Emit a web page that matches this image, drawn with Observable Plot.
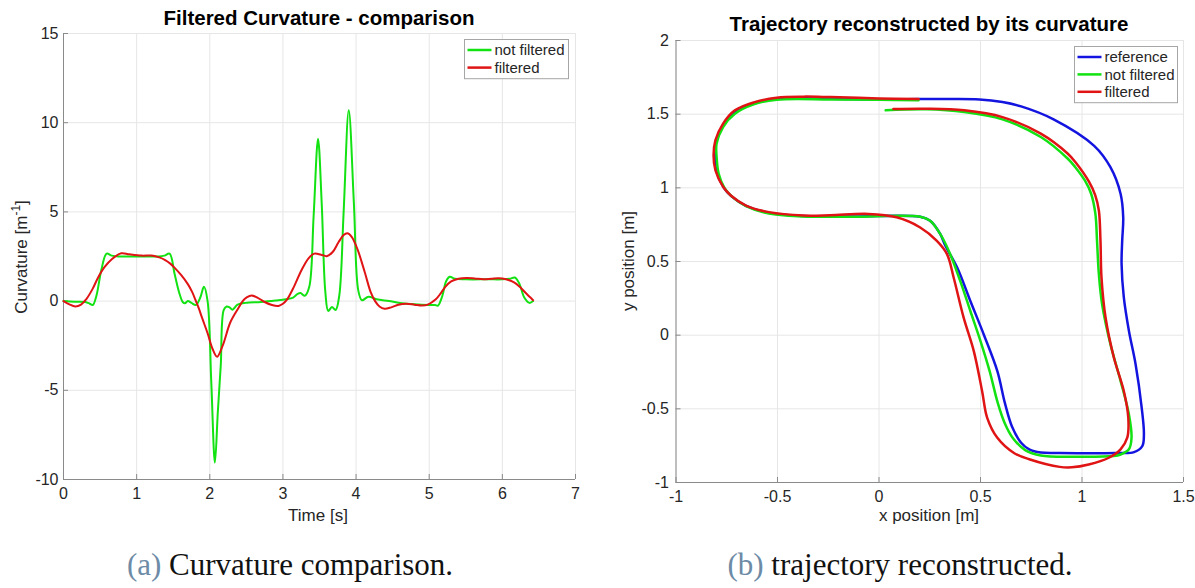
<!DOCTYPE html>
<html>
<head>
<meta charset="utf-8">
<script src="https://cdn.jsdelivr.net/npm/d3@7"></script>
<script src="https://cdn.jsdelivr.net/npm/@observablehq/plot@0.6"></script>
<style>
  html, body { margin: 0; padding: 0; background: #fff; }
  #fig { position: relative; width: 1195px; height: 588px; overflow: hidden;
         font-family: "Liberation Sans", Arial, Helvetica, sans-serif; }
  #fig > svg { position: absolute; top: 0; }
</style>
</head>
<body>
<div id="fig"></div>
<script>
// ---- curvature panel -------------------------------------------------------
const timeTicks = [0, 1, 2, 3, 4, 5, 6, 7];
const curvTicks = [-10, -5, 0, 5, 10, 15];

// curvature computed directly from the path (not filtered)
const rawTime = [0, 0.15, 0.30, 0.36, 0.40, 0.45, 0.52, 0.59, 0.66, 0.75, 0.9, 1.1, 1.3, 1.38, 1.45, 1.52, 1.58, 1.63, 1.66, 1.70, 1.75, 1.81, 1.87, 1.92, 1.97, 2.02, 2.07, 2.11, 2.15, 2.19, 2.23, 2.27, 2.31, 2.38, 2.49, 2.7, 2.9, 3.04, 3.14, 3.20, 3.24, 3.30, 3.36, 3.42, 3.48, 3.53, 3.58, 3.62, 3.67, 3.72, 3.77, 3.83, 3.90, 3.97, 4.03, 4.08, 4.17, 4.28, 4.45, 4.6, 4.8, 5.0, 5.08, 5.12, 5.18, 5.23, 5.28, 5.35, 5.5, 5.8, 6.0, 6.1, 6.17, 6.23, 6.30, 6.37, 6.42];
const rawCurv = [0, -0.03, -0.05, -0.15, -0.22, 0.3, 1.8, 2.66, 2.55, 2.5, 2.5, 2.5, 2.5, 2.55, 2.66, 1.5, 0.5, -0.05, -0.12, 0.0, -0.1, -0.22, 0.2, 0.8, 0.0, -4.5, -9.05, -6.2, -3.6, -0.5, -0.3, -0.35, -0.48, -0.2, -0.1, -0.05, 0.03, 0.1, 0.2, 0.4, 0.45, 0.3, 0.8, 4.8, 9.1, 5.5, 0.5, -0.55, -0.33, -0.5, 0.3, 5.0, 10.7, 5.5, 0.6, 0.05, 0.25, 0.1, 0.0, -0.1, -0.18, -0.22, -0.22, -0.25, 0.3, 1.1, 1.36, 1.25, 1.22, 1.22, 1.22, 1.25, 1.32, 1.0, 0.2, -0.1, 0.0];

// low-pass filtered curvature
const filtTime = [0, 0.08, 0.16, 0.24, 0.31, 0.40, 0.47, 0.56, 0.66, 0.79, 0.9, 1.07, 1.2, 1.31, 1.39, 1.46, 1.52, 1.61, 1.70, 1.76, 1.81, 1.84, 1.90, 1.97, 2.04, 2.10, 2.18, 2.28, 2.39, 2.45, 2.51, 2.57, 2.65, 2.75, 2.85, 2.94, 3.0, 3.05, 3.15, 3.25, 3.35, 3.43, 3.52, 3.60, 3.68, 3.76, 3.83, 3.88, 3.94, 4.02, 4.12, 4.2, 4.26, 4.32, 4.39, 4.48, 4.58, 4.69, 4.8, 4.9, 4.98, 5.09, 5.16, 5.22, 5.3, 5.4, 5.51, 5.62, 5.74, 5.85, 5.95, 6.05, 6.16, 6.25, 6.32, 6.42];
const filtCurv = [0, -0.18, -0.3, -0.2, 0.1, 0.7, 1.3, 1.9, 2.35, 2.68, 2.62, 2.55, 2.55, 2.45, 2.3, 2.1, 1.86, 1.45, 0.95, 0.5, 0.0, -0.3, -1.0, -1.8, -2.7, -3.12, -2.45, -1.2, -0.4, 0.0, 0.22, 0.32, 0.2, -0.05, -0.22, -0.27, -0.15, 0.05, 0.8, 1.7, 2.4, 2.66, 2.6, 2.52, 2.75, 3.3, 3.7, 3.8, 3.6, 2.9, 1.6, 0.5, 0.0, -0.3, -0.43, -0.35, -0.2, -0.15, -0.2, -0.25, -0.2, 0.1, 0.45, 0.8, 1.1, 1.25, 1.3, 1.27, 1.22, 1.25, 1.28, 1.22, 1.05, 0.75, 0.45, 0.05];

// ---- trajectory panel ------------------------------------------------------
const posXTicks = [-1, -0.5, 0, 0.5, 1, 1.5];
const posYTicks = [-1, -0.5, 0, 0.5, 1, 1.5, 2];

const refX = [0.195, 0.0, -0.24, -0.504, -0.617, -0.71, -0.768, -0.803, -0.807, -0.798, -0.764, -0.725, -0.655, -0.542, -0.372, -0.127, 0.203, 0.252, 0.302, 0.327, 0.385, 0.45, 0.516, 0.583, 0.62, 0.655, 0.70, 0.74, 0.797, 0.89, 1.165, 1.256, 1.297, 1.305, 1.294, 1.264, 1.231, 1.206, 1.195, 1.198, 1.203, 1.19, 1.14, 1.06, 0.86, 0.70, 0.608, 0.495, 0.35, 0.195];
const refY = [1.603, 1.60, 1.605, 1.605, 1.573, 1.513, 1.423, 1.31, 1.215, 1.108, 1.0, 0.94, 0.878, 0.83, 0.808, 0.806, 0.804, 0.777, 0.686, 0.607, 0.459, 0.232, 0.005, -0.244, -0.46, -0.62, -0.73, -0.775, -0.797, -0.80, -0.80, -0.794, -0.753, -0.673, -0.492, -0.197, 0.03, 0.256, 0.483, 0.64, 0.80, 0.96, 1.14, 1.285, 1.465, 1.553, 1.582, 1.60, 1.603, 1.603];

const rawX = [0.195, 0.0, -0.24, -0.504, -0.617, -0.71, -0.768, -0.80, -0.80, -0.79, -0.76, -0.72, -0.655, -0.542, -0.372, -0.127, 0.203, 0.252, 0.302, 0.351, 0.40, 0.45, 0.50, 0.545, 0.585, 0.62, 0.66, 0.72, 0.797, 0.985, 1.155, 1.19, 1.231, 1.244, 1.231, 1.19, 1.14, 1.099, 1.083, 1.074, 1.066, 1.045, 1.014, 0.967, 0.929, 0.797, 0.608, 0.42, 0.231, 0.033];
const rawY = [1.594, 1.597, 1.60, 1.598, 1.567, 1.503, 1.413, 1.30, 1.21, 1.097, 0.996, 0.935, 0.876, 0.825, 0.806, 0.804, 0.804, 0.777, 0.686, 0.55, 0.368, 0.164, -0.04, -0.244, -0.46, -0.60, -0.70, -0.78, -0.817, -0.825, -0.82, -0.81, -0.775, -0.696, -0.537, -0.31, -0.061, 0.21, 0.415, 0.642, 0.823, 0.96, 1.05, 1.14, 1.199, 1.345, 1.465, 1.515, 1.533, 1.526];

const filtX = [0.195, 0.0, -0.24, -0.372, -0.504, -0.617, -0.71, -0.768, -0.806, -0.815, -0.806, -0.768, -0.73, -0.655, -0.542, -0.372, -0.24, -0.052, 0.087, 0.203, 0.285, 0.335, 0.368, 0.417, 0.467, 0.508, 0.533, 0.583, 0.665, 0.74, 0.89, 0.95, 1.033, 1.132, 1.19, 1.223, 1.228, 1.206, 1.157, 1.116, 1.096, 1.091, 1.083, 1.065, 1.035, 0.967, 0.929, 0.797, 0.608, 0.42, 0.231, 0.071];
const filtY = [1.603, 1.607, 1.616, 1.619, 1.612, 1.58, 1.526, 1.436, 1.323, 1.221, 1.12, 1.007, 0.948, 0.88, 0.835, 0.812, 0.814, 0.823, 0.80, 0.731, 0.64, 0.55, 0.39, 0.119, -0.108, -0.38, -0.561, -0.697, -0.80, -0.842, -0.894, -0.897, -0.878, -0.832, -0.775, -0.696, -0.56, -0.379, -0.152, 0.12, 0.392, 0.642, 0.846, 0.95, 1.04, 1.175, 1.233, 1.368, 1.48, 1.526, 1.537, 1.535];

const GREEN = "#12e212", RED = "#e01414", BLUE = "#1414e0";
const GRID = "#e6e6e6", AXIS = "#8a8a8a", TEXT = "#262626";

const toPoints = (xs, ys) => xs.map((x, i) => ({x, y: ys[i]}));

// MATLAB-like axes: light grid, left/bottom axis lines, short inward ticks
function axesMarks(xTicks, yTicks, innerW, innerH, padX, padY) {
  const fmt = d => String(d);
  return [
    Plot.gridX(xTicks, {stroke: GRID, strokeOpacity: 1}),
    Plot.gridY(yTicks, {stroke: GRID, strokeOpacity: 1}),
    Plot.ruleX([xTicks[0]], {stroke: AXIS}),
    Plot.ruleY([yTicks[0]], {stroke: AXIS}),
    Plot.ruleX(xTicks, {x: d => d, insetTop: innerH - 5, stroke: AXIS}),
    Plot.ruleY(yTicks, {y: d => d, insetRight: innerW - 5, stroke: AXIS}),
    Plot.axisX(xTicks, {tickSize: 0, tickPadding: padX, tickFormat: fmt, label: null}),
    Plot.axisY(yTicks, {tickSize: 0, tickPadding: padY, tickFormat: fmt, label: null})
  ];
}

const fig = document.getElementById("fig");
const plotStyle = {fontFamily: '"Liberation Sans", Arial, sans-serif', fontSize: "16px", color: TEXT, background: "transparent"};

// left: curvature over time
{
  const W = 600, H = 540, mL = 63, mR = 25, mT = 33, mB = 61;
  const chart = Plot.plot({
    width: W, height: H,
    marginLeft: mL, marginRight: mR, marginTop: mT, marginBottom: mB,
    x: {domain: [timeTicks[0], timeTicks[timeTicks.length - 1]]},
    y: {domain: [curvTicks[0], curvTicks[curvTicks.length - 1]]},
    style: plotStyle,
    marks: [
      ...axesMarks(timeTicks, curvTicks, W - mL - mR, H - mT - mB, 8, 5),
      Plot.line(toPoints(rawTime, rawCurv), {x: "x", y: "y", stroke: GREEN, strokeWidth: 2, curve: "catmull-rom"}),
      Plot.line(toPoints(filtTime, filtCurv), {x: "x", y: "y", stroke: RED, strokeWidth: 2, curve: "catmull-rom"})
    ]
  });
  chart.style.left = "0px";
  fig.appendChild(chart);
}

// right: reconstructed trajectories in the plane
{
  const W = 595, H = 540, mL = 75.5, mR = 12, mT = 40, mB = 58;
  const chart = Plot.plot({
    width: W, height: H,
    marginLeft: mL, marginRight: mR, marginTop: mT, marginBottom: mB,
    x: {domain: [posXTicks[0], posXTicks[posXTicks.length - 1]]},
    y: {domain: [posYTicks[0], posYTicks[posYTicks.length - 1]]},
    style: plotStyle,
    marks: [
      ...axesMarks(posXTicks, posYTicks, W - mL - mR, H - mT - mB, 8, 7),
      Plot.line(toPoints(refX, refY), {x: "x", y: "y", stroke: BLUE, strokeWidth: 2.5, curve: "catmull-rom"}),
      Plot.line(toPoints(rawX, rawY), {x: "x", y: "y", stroke: GREEN, strokeWidth: 2.5, curve: "catmull-rom"}),
      Plot.line(toPoints(filtX, filtY), {x: "x", y: "y", stroke: RED, strokeWidth: 2.5, curve: "catmull-rom"})
    ]
  });
  chart.style.left = "600px";
  fig.appendChild(chart);
}

// titles, axis labels, legends and sub-captions
const ov = d3.select(fig).append("svg")
  .attr("width", 1195).attr("height", 588)
  .style("left", "0px")
  .attr("font-family", '"Liberation Sans", Arial, sans-serif')
  .attr("fill", TEXT);

function label(x, y, txt, opts = {}) {
  const t = ov.append("text").attr("x", x).attr("y", y)
    .attr("text-anchor", opts.anchor || "middle")
    .attr("font-size", opts.size || 17)
    .attr("font-weight", opts.weight || "normal");
  if (opts.rotate) t.attr("transform", `rotate(-90 ${x} ${y})`);
  t.text(txt);
  return t;
}

label(319, 25, "Filtered Curvature - comparison", {size: 20.5, weight: "bold"}).attr("fill", "#000");
label(929, 31, "Trajectory reconstructed by its curvature", {size: 20.5, weight: "bold"}).attr("fill", "#000");

label(318, 521, "Time [s]");
label(929, 521, "x position [m]");
label(634, 261, "y position [m]", {rotate: true});
{
  const t = label(27, 257, "Curvature [m", {rotate: true});
  t.append("tspan").attr("dy", -7).attr("font-size", 12).text("-1");
  t.append("tspan").attr("dy", 7).text("]");
}

function legend(x, y, w, rowH, entries) {
  const g = ov.append("g");
  g.append("rect").attr("x", x).attr("y", y).attr("width", w)
    .attr("height", rowH * entries.length + 4)
    .attr("fill", "#fff").attr("stroke", "#a6a6a6").attr("stroke-width", 1);
  entries.forEach(([name, color], i) => {
    const cy = y + 10.5 + i * rowH;
    g.append("line").attr("x1", x + 3).attr("x2", x + 27).attr("y1", cy).attr("y2", cy)
      .attr("stroke", color).attr("stroke-width", 2.5);
    g.append("text").attr("x", x + 30).attr("y", cy + 5.3).attr("font-size", 15).text(name);
  });
}
legend(464.5, 39.5, 104, 17.6, [["not filtered", GREEN], ["filtered", RED]]);
legend(1074.5, 46.5, 103, 17.4, [["reference", BLUE], ["not filtered", GREEN], ["filtered", RED]]);

function caption(cx, tag, txt) {
  const t = ov.append("text").attr("x", cx).attr("y", 575)
    .attr("text-anchor", "middle")
    .attr("font-family", '"Liberation Serif", "DejaVu Serif", serif')
    .attr("font-size", 31).attr("fill", "#111")
    .style("white-space", "pre");
  t.append("tspan").attr("fill", "#6d8ba6").text(tag);
  t.append("tspan").text(" " + txt);
}
caption(290, "(a)", "Curvature comparison.");
caption(900, "(b)", "trajectory reconstructed.");
</script>
</body>
</html>
